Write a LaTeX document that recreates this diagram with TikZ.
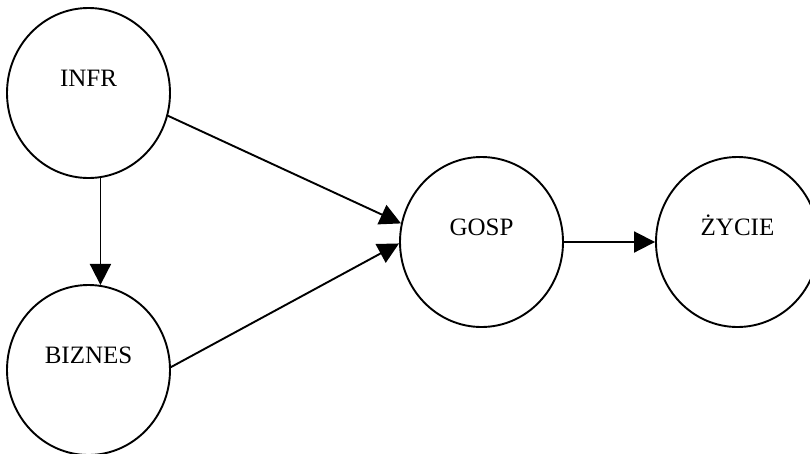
\documentclass[tikz,border=0pt]{standalone}
\usepackage{fontspec}
\setmainfont{Liberation Serif}
\usetikzlibrary{shapes.geometric,arrows.meta}

\tikzset{
	sector/.style={ellipse, draw, line width=1.9pt, minimum width=163pt, minimum height=170pt,
		inner sep=0pt, text height=17pt, text depth=30pt, font=\fontsize{25}{30}\selectfont},
	wplyw/.style={line width=1.9pt, -{Triangle[length=21pt,width=21pt]}}
}

\begin{document}
\begin{tikzpicture}[x=1pt,y=-1pt]

	\useasboundingbox (0,0) rectangle (810,453);

	\node[sector] (infr)   at (88.5,93)  {INFR};
	\node[sector] (biznes) at (88.5,370) {BIZNES};
	\node[sector] (gosp)   at (481.5,242) {GOSP};
	\node[sector] (zycie)  at (737.5,242) {ŻYCIE};

	\draw[wplyw] (infr.-82) -- (biznes.82);
	\draw[wplyw] (infr.-16) -- (gosp.167);
	\draw[wplyw] (biznes.2) -- (gosp.181);
	\draw[wplyw] (gosp.east) -- (zycie.west);

\end{tikzpicture}
\end{document}
